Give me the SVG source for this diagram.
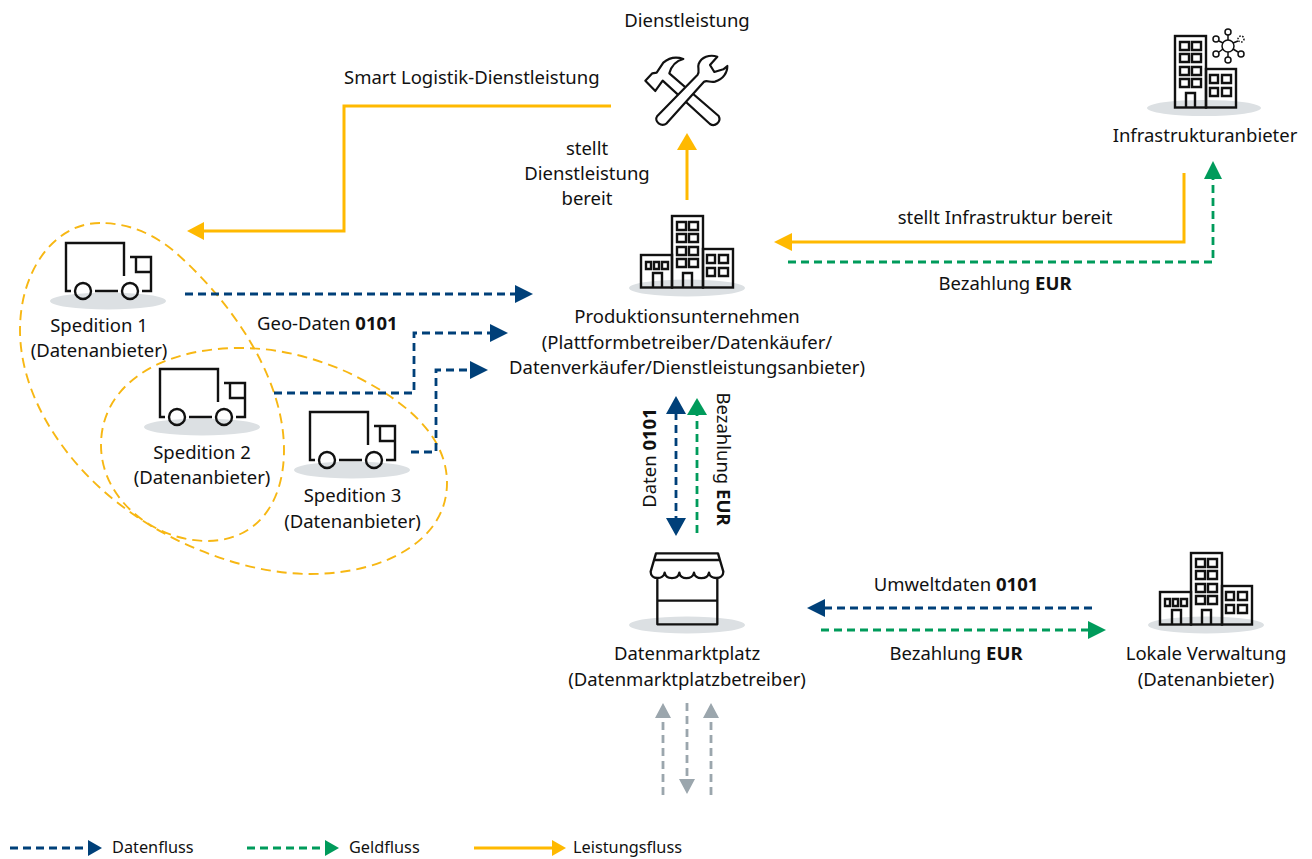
<svg xmlns="http://www.w3.org/2000/svg" xmlns:xlink="http://www.w3.org/1999/xlink" width="1312" height="859" viewBox="0 0 1312 859">
<style>
text{font-family:"Noto Sans","Liberation Sans",sans-serif;font-size:18.500px;fill:#111;text-anchor:middle}
.s{text-anchor:start}
.lg{font-size:16.300px;text-anchor:start}
b,.b{font-weight:700}
.ln{fill:none;stroke-width:2.800;stroke-linejoin:miter}
.d{stroke-dasharray:8 5}
.blue{stroke:#004079}.green{stroke:#009b5b}.yel{stroke:#ffb900;stroke-width:3}.grey{stroke:#9ba6ad}
.fb{fill:#004079}.fg{fill:#009b5b}.fy{fill:#ffb900}.fk{fill:#9ba6ad}
.ic{fill:none;stroke:#111;stroke-width:2.400}
.sh{fill:#dce0e3}
.loop{fill:none;stroke:#f7b713;stroke-width:1.900;stroke-dasharray:10 6}
</style>
<defs>
<g id="truck">
<ellipse class="sh" cx="108" cy="301" rx="58" ry="8.500"/>
<path class="ic" d="M124 276V243H66V291H71M95 291H118M142 291H151V257H130M136 257V272H151"/>
<circle class="ic" cx="83" cy="291" r="8"/><circle class="ic" cx="130" cy="291" r="8"/>
</g>
<g id="tower">
<rect class="ic" x="672" y="216" width="31" height="71.500"/>
<path class="ic" d="M677 222h9v8h-9zM689 222h9v8h-9zM677 234h9v8h-9zM689 234h9v8h-9zM677 247h9v8h-9zM689 247h9v8h-9zM677 259h9v8h-9zM689 259h9v8h-9zM683 287.500V273h9v14.500"/>
</g>
<g id="right">
<rect class="ic" x="703" y="249" width="30" height="38.500"/>
<path class="ic" d="M707 255h8v8h-8zM719 255h9v8h-9zM707 268h8v8h-8zM719 268h9v8h-9z"/>
</g>
<g id="city">
<ellipse class="sh" cx="687" cy="288" rx="58" ry="8.500"/>
<use href="#tower"/><use href="#right"/>
<rect class="ic" x="641" y="255" width="31" height="32.500"/>
<path class="ic" d="M646 262h5v7h-5zM654 262h5v7h-5zM662 262h6v7h-6zM653 287.500V273h9v14.500"/>
</g>
</defs>

<g id="connectors">
<path class="loop" d="M100 223C55 223 20 270 20 330C20 400 70 470 130 512C180 548 250 574 310 574C385 574 447 540 447 483C447 430 395 395 347 372C315 358 280 348 240 348C160 348 101 385 101 445C101 500 155 541 207 541C255 541 284 505 284 450C284 380 235 305 175 252C155 235 130 223 100 223Z"/>
<path class="ln yel" d="M611 106H344V231H203"/><path class="fy" d="M187 231L204 222V240Z"/>
<path class="ln yel" d="M687 200V149"/><path class="fy" d="M687 133L697 150H677Z"/>
<path class="ln yel" d="M1184 173V242H790"/><path class="fy" d="M774 242L792 233V251Z"/>
<path class="ln green d" d="M788 262H1213V178"/><path class="fg" d="M1213 161L1222 179H1204Z"/>
<path class="ln blue d" d="M185 294H516"/><path class="fb" d="M533 294L515 285V303Z"/>
<path class="ln blue d" d="M274 393H414V333H491"/><path class="fb" d="M508 333L490 324V342Z"/>
<path class="ln blue d" d="M411 452H436V370H472"/><path class="fb" d="M488 370L470 361V379Z"/>
<path class="ln blue d" d="M676 412V520"/><path class="fb" d="M676 396L686 414H666ZM676 536L666 518H686Z"/>
<path class="ln green d" d="M697 533V414"/><path class="fg" d="M697 398L707 415H687Z"/>
<path class="ln blue d" d="M1092 608H822"/><path class="fb" d="M807 608L825 599V617Z"/>
<path class="ln green d" d="M821 630H1090"/><path class="fg" d="M1106 630L1088 621V639Z"/>
<path class="ln grey d" d="M663 795V716M711 795V716M687 703V782"/><path class="fk" d="M663 703L671 718H655ZM711 703L719 718H703ZM687 794L679 779H695Z"/>
<path class="ln blue d" d="M10 848H88"/><path class="fb" d="M102 848L88 840V856Z"/>
<path class="ln green d" d="M247 848H325"/><path class="fg" d="M339 848L325 840V856Z"/>
<path class="ln yel" d="M474 848H553"/><path class="fy" d="M566 848L552 840V856Z"/>
</g>

<g id="n-dienst">
<text x="687" y="27">Dienstleistung</text>
<g transform="translate(620 40) scale(.3333)" fill="#fff" stroke="#111" stroke-width="6.500" stroke-linejoin="round">
<path d="M190 57C165 48 145 55 130 68L110 98L97 100L76 122L106 153L128 122L270 252C285 262 305 245 296 228L148 100C155 75 170 62 190 57Z"/>
<path d="M112 228L233 104C240 95 232 82 236 72C244 52 268 42 292 50L270 75L283 96L310 88L322 78C322 98 310 118 285 125C270 128 262 120 252 125L140 250C125 262 100 245 112 228Z"/>
</g>
</g>

<g id="n-prod">
<use href="#city"/>
<text x="687" y="323">Produktionsunternehmen</text>
<text x="687" y="349">(Plattformbetreiber/Datenkäufer/</text>
<text x="687" y="374">Datenverkäufer/Dienstleistungsanbieter)</text>
</g>

<g id="n-infra">
<ellipse class="sh" cx="1204" cy="108" rx="57" ry="8"/>
<g transform="translate(503 -180)"><use href="#tower"/><use href="#right"/></g>
<g fill="none" stroke="#111" stroke-width="1.500">
<circle cx="1228" cy="46" r="6"/><path d="M1228 40V35M1228 52V57M1223 43L1219 41M1223 49L1219 52M1233 49L1238 52M1233 43L1238 41"/>
<circle cx="1228" cy="32" r="3"/><circle cx="1228" cy="60" r="3"/><circle cx="1216" cy="39" r="3"/><circle cx="1216" cy="54" r="3"/><circle cx="1241" cy="54" r="3"/><circle cx="1241" cy="39" r="3" stroke-dasharray="1.500 1.500"/>
</g>
<text x="1205" y="142">Infrastrukturanbieter</text>
</g>

<g id="n-sp1"><use href="#truck"/><text x="99" y="332">Spedition 1</text><text x="99" y="357">(Datenanbieter)</text></g>
<g id="n-sp2"><use href="#truck" x="94" y="126"/><text x="202" y="459">Spedition 2</text><text x="202" y="484">(Datenanbieter)</text></g>
<g id="n-sp3"><use href="#truck" x="244" y="169"/><text x="352.500" y="502">Spedition 3</text><text x="352.500" y="528">(Datenanbieter)</text></g>

<g id="n-markt">
<ellipse class="sh" cx="687" cy="625" rx="58" ry="8.500"/>
<g transform="translate(620 380) scale(.3333)" fill="none" stroke="#111" stroke-width="7" stroke-linejoin="round">
<path d="M112 595V733H292V595M112 662H292M108 520H294L310 575C310 600 270 600 267 578C262 600 225 600 222 578C218 600 180 600 178 578C174 600 138 600 134 578C130 600 92 600 92 575ZM103 540H300"/>
</g>
<text x="687" y="660">Datenmarktplatz</text>
<text x="687" y="686">(Datenmarktplatzbetreiber)</text>
</g>

<g id="n-lokal">
<use href="#city" x="519" y="337"/>
<text x="1206" y="660">Lokale Verwaltung</text>
<text x="1206" y="686">(Datenanbieter)</text>
</g>

<g id="labels">
<text class="s" x="344" y="84">Smart Logistik-Dienstleistung</text>
<text x="587" y="155">stellt</text><text x="587" y="180">Dienstleistung</text><text x="587" y="205">bereit</text>
<text x="1005" y="224">stellt Infrastruktur bereit</text>
<text x="1005" y="290">Bezahlung <tspan class="b">EUR</tspan></text>
<text class="s" x="257" y="330">Geo-Daten <tspan class="b">0101</tspan></text>
<text transform="translate(656 458) rotate(-90)">Daten <tspan class="b">0101</tspan></text>
<text transform="translate(717 459) rotate(90)">Bezahlung <tspan class="b">EUR</tspan></text>
<text x="956" y="591">Umweltdaten <tspan class="b">0101</tspan></text>
<text x="956" y="660">Bezahlung <tspan class="b">EUR</tspan></text>
<text class="lg" x="112" y="853">Datenfluss</text>
<text class="lg" x="349" y="853">Geldfluss</text>
<text class="lg" x="573" y="853">Leistungsfluss</text>
</g>
</svg>
